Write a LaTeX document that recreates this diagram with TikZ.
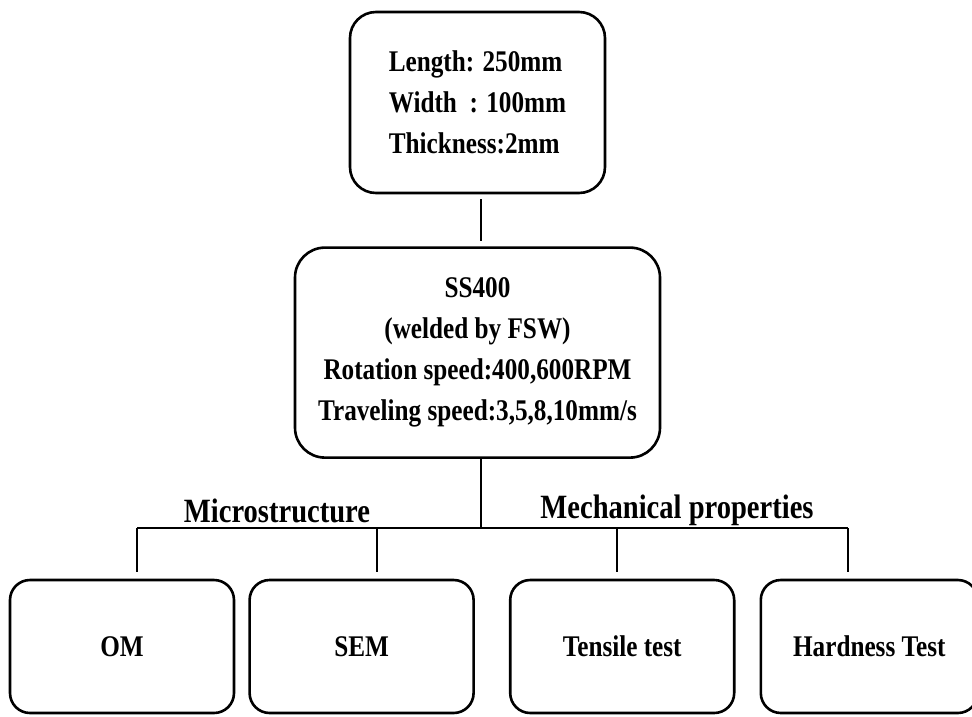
\documentclass[tikz,border=0pt]{standalone}
\usepackage{fontspec}
\setmainfont{Liberation Serif}[FakeStretch=0.84]
\usetikzlibrary{positioning, calc}

\begin{document}
\begin{tikzpicture}[x=1pt, y=1pt, node distance=13pt,
    box/.style={draw, line width=2.6pt, rounded corners=20pt, inner sep=0pt, align=center, minimum width=224pt, minimum height=133pt, font=\fontsize{30}{41}\selectfont\bfseries},
    link/.style={line width=1.5pt},
    heading/.style={anchor=base, font=\fontsize{34}{40}\selectfont\bfseries}]

    \useasboundingbox (0,0) rectangle (972,-716);

    % Plaque
    \node[box, rounded corners=26pt, minimum width=255pt, minimum height=181pt, align=left] (plate) at (477.5,-102.5) {Length: 250mm\\Width~~: 100mm\\Thickness:2mm};

    % Soudage
    \node[box, rounded corners=30pt, minimum width=365pt, minimum height=210pt, below=52pt of plate] (weld) {SS400\\(welded by FSW)\\Rotation speed:400,600RPM\\Traveling speed:3,5,8,10mm/s};

    % Essais
    \node[box] (om) at (122,-646.5) {OM};
    \node[box, right=13pt of om] (sem) {SEM};
    \node[box, right=34pt of sem] (tensile) {Tensile test};
    \node[box, minimum width=217pt, right=24pt of tensile] (hardness) {Hardness Test};

    % Titres
    \node[heading] (micro) at (277,-522) {Microstructure};
    \node[heading] (mech) at (677,-518) {Mechanical properties};

    % Liens
    \coordinate (hub) at (481,-528);
    \coordinate (tapom) at (137,-528);
    \coordinate (tapsem) at (377,-528);
    \coordinate (taptensile) at (617,-528);
    \coordinate (taphardness) at (848,-528);

    \draw[link, shorten <=5pt, shorten >=5pt] (plate.south -| hub) -- (weld.north -| hub);
    \draw[link] (weld.south -| hub) -- (hub);
    \draw[link] (tapom) -- (taphardness);
    \draw[link, shorten >=7pt] (tapom) -- (tapom |- om.north);
    \draw[link, shorten >=7pt] (tapsem) -- (tapsem |- sem.north);
    \draw[link, shorten >=7pt] (taptensile) -- (taptensile |- tensile.north);
    \draw[link, shorten >=7pt] (taphardness) -- (taphardness |- hardness.north);

\end{tikzpicture}
\end{document}
